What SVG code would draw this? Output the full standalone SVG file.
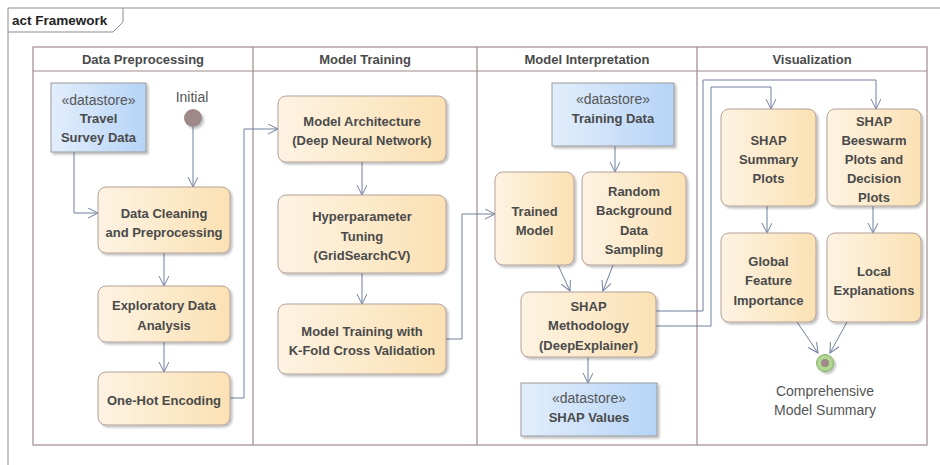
<svg xmlns="http://www.w3.org/2000/svg" width="940" height="465" viewBox="0 0 940 465">
<defs>
<linearGradient id="gAct" x1="0" y1="0" x2="1" y2="0">
<stop offset="0" stop-color="#fdf3e3"/>
<stop offset="1" stop-color="#fbe1b3"/>
</linearGradient>
<linearGradient id="gDs" x1="0" y1="0" x2="1" y2="0">
<stop offset="0" stop-color="#e2eefc"/>
<stop offset="1" stop-color="#b6d4f6"/>
</linearGradient>
<filter id="sh" x="-10%" y="-10%" width="130%" height="130%">
<feDropShadow dx="2" dy="2" stdDeviation="1.2" flood-color="#000" flood-opacity="0.25"/>
</filter>
<marker id="arr" markerUnits="userSpaceOnUse" markerWidth="12" markerHeight="12" refX="10" refY="5" orient="auto">
<path d="M0,0 L10,5 L0,10" fill="none" stroke="#7080a0" stroke-width="1"/>
</marker>
</defs>
<style>
.act{fill:url(#gAct);stroke:#b4a098;stroke-width:1;filter:url(#sh)}
.ds{fill:url(#gDs);stroke:#9a9a9a;stroke-width:1;filter:url(#sh)}
.b{font-family:"Liberation Sans",Arial,sans-serif;font-weight:bold;font-size:13px;fill:#4a4a4a;text-anchor:middle}
.r{font-family:"Liberation Sans",Arial,sans-serif;font-size:14px;fill:#555;text-anchor:middle}
.lane{fill:none;stroke:#9e8a8a;stroke-width:1.2}
.con{fill:none;stroke:#7080a0;stroke-width:1;marker-end:url(#arr)}
</style>
<rect width="940" height="465" fill="#fff"/>
<g id="frame">
<path d="M8,465 V8 H940 M123,8 V22 L113,32 H8" fill="none" stroke="#8c8c8c" stroke-width="1"/>
<text x="12" y="25" style="font-family:'Liberation Sans',Arial,sans-serif;font-weight:bold;font-size:13.5px;fill:#222">act Framework</text>
</g>
<g id="lanes">
<rect class="lane" x="33" y="47" width="894" height="398"/>
<path class="lane" d="M33,71 H927 M253,47 V445 M477,47 V445 M697,47 V445"/>
<text class="b" x="143" y="64">Data Preprocessing</text>
<text class="b" x="365" y="64">Model Training</text>
<text class="b" x="587" y="64">Model Interpretation</text>
<text class="b" x="812" y="64">Visualization</text>
</g>
<g id="connectors">
<path class="con" d="M74,152 V213 H98"/>
<path class="con" d="M193,127 V187"/>
<path class="con" d="M164,253 V286"/>
<path class="con" d="M164,342 V372"/>
<path class="con" d="M230,398 H244 V129 H278"/>
<path class="con" d="M362,162 V195"/>
<path class="con" d="M362,273 V304"/>
<path class="con" d="M446,339 H462 V214 H495"/>
<path class="con" d="M615,146 V172"/>
<path class="con" d="M558,265 L570,291"/>
<path class="con" d="M613,265 L603,291"/>
<path class="con" d="M588,357 V383"/>
<path class="con" d="M656,311 H703 V80 H876 V109"/>
<path class="con" d="M656,326 H711 V87 H771 V109"/>
<path class="con" d="M767,206 V233"/>
<path class="con" d="M873,206 V233"/>
<path class="con" d="M797,322 L818,353"/>
<path class="con" d="M847,322 L830,353"/>
</g>
<g id="travelSurveyData">
<rect class="ds" x="51" y="83" width="95" height="69"/>
<text class="r" x="98.5" y="104.5">«datastore»</text>
<text class="b" x="98.5" y="122.5">Travel</text>
<text class="b" x="98.5" y="141.5">Survey Data</text>
</g>
<g id="initial">
<text class="r" x="192" y="102">Initial</text>
<circle cx="193" cy="118" r="9" fill="#9e8888" filter="url(#sh)"/>
</g>
<g id="dataCleaning">
<rect class="act" x="98" y="187" width="132" height="66" rx="8"/>
<text class="b" x="164" y="217.5">Data Cleaning</text>
<text class="b" x="164" y="236.5">and Preprocessing</text>
</g>
<g id="eda">
<rect class="act" x="98" y="286" width="132" height="56" rx="8"/>
<text class="b" x="164" y="310">Exploratory Data</text>
<text class="b" x="164" y="329.5">Analysis</text>
</g>
<g id="oneHot">
<rect class="act" x="98" y="372" width="132" height="53" rx="8"/>
<text class="b" x="164" y="404.5">One-Hot Encoding</text>
</g>
<g id="modelArch">
<rect class="act" x="278" y="96" width="168" height="66" rx="8"/>
<text class="b" x="362" y="126">Model Architecture</text>
<text class="b" x="362" y="144.5">(Deep Neural Network)</text>
</g>
<g id="hyperTuning">
<rect class="act" x="278" y="195" width="168" height="78" rx="8"/>
<text class="b" x="362" y="221">Hyperparameter</text>
<text class="b" x="362" y="240.5">Tuning</text>
<text class="b" x="362" y="259.5">(GridSearchCV)</text>
</g>
<g id="modelTrainingKFold">
<rect class="act" x="278" y="304" width="168" height="70" rx="8"/>
<text class="b" x="362" y="335.5">Model Training with</text>
<text class="b" x="362" y="354.5">K-Fold Cross Validation</text>
</g>
<g id="trainingData">
<rect class="ds" x="552" y="83" width="122" height="63"/>
<text class="r" x="613" y="104">«datastore»</text>
<text class="b" x="613" y="123">Training Data</text>
</g>
<g id="trainedModel">
<rect class="act" x="495" y="172" width="79" height="93" rx="8"/>
<text class="b" x="534.5" y="215.5">Trained</text>
<text class="b" x="534.5" y="234.5">Model</text>
</g>
<g id="randomBackground">
<rect class="act" x="582" y="172" width="104" height="93" rx="8"/>
<text class="b" x="634" y="196">Random</text>
<text class="b" x="634" y="215">Background</text>
<text class="b" x="634" y="234.5">Data</text>
<text class="b" x="634" y="253.5">Sampling</text>
</g>
<g id="shapMethodology">
<rect class="act" x="521" y="292" width="135" height="65" rx="8"/>
<text class="b" x="588.5" y="311">SHAP</text>
<text class="b" x="588.5" y="330">Methodology</text>
<text class="b" x="588.5" y="349.5">(DeepExplainer)</text>
</g>
<g id="shapValues">
<rect class="ds" x="521" y="383" width="136" height="53"/>
<text class="r" x="589" y="403">«datastore»</text>
<text class="b" x="589" y="422">SHAP Values</text>
</g>
<g id="shapSummary">
<rect class="act" x="721" y="109" width="95" height="97" rx="8"/>
<text class="b" x="768.5" y="144.5">SHAP</text>
<text class="b" x="768.5" y="163.5">Summary</text>
<text class="b" x="768.5" y="182.5">Plots</text>
</g>
<g id="shapBeeswarm">
<rect class="act" x="827" y="109" width="94" height="97" rx="8"/>
<text class="b" x="874" y="125.5">SHAP</text>
<text class="b" x="874" y="145">Beeswarm</text>
<text class="b" x="874" y="164">Plots and</text>
<text class="b" x="874" y="183">Decision</text>
<text class="b" x="874" y="202">Plots</text>
</g>
<g id="globalFeature">
<rect class="act" x="721" y="233" width="95" height="89" rx="8"/>
<text class="b" x="768.5" y="266">Global</text>
<text class="b" x="768.5" y="285">Feature</text>
<text class="b" x="768.5" y="304.5">Importance</text>
</g>
<g id="localExplanations">
<rect class="act" x="827" y="233" width="94" height="89" rx="8"/>
<text class="b" x="874" y="275.5">Local</text>
<text class="b" x="874" y="294.5">Explanations</text>
</g>
<g id="final">
<circle cx="825" cy="363" r="8.5" fill="#b0d890" stroke="#86ad6a" stroke-width="1" filter="url(#sh)"/>
<circle cx="825" cy="363" r="4" fill="#9e8888"/>
<text class="r" x="825" y="396">Comprehensive</text>
<text class="r" x="825" y="415">Model Summary</text>
</g>
</svg>
